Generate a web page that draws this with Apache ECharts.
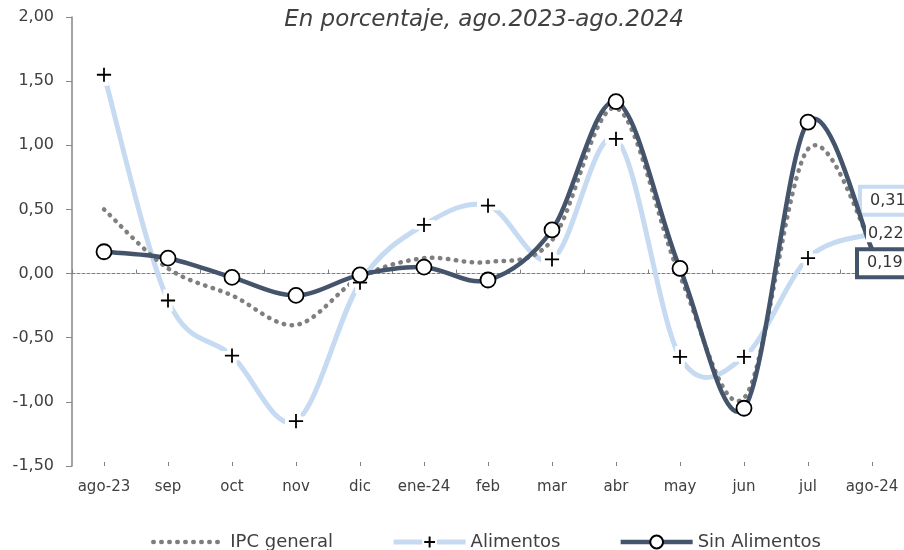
<!doctype html>
<html lang="es">
<head>
<meta charset="utf-8">
<title>IPC general, Alimentos y Sin Alimentos</title>
<script src="https://cdn.jsdelivr.net/npm/echarts@6/dist/echarts.min.js"></script>
<style>
  html, body { margin: 0; padding: 0; background: #fff; }
  #chart { width: 904px; height: 550px; }
</style>
</head>
<body>
<div id="chart"></div>
<script>
// months, ago.2023 - ago.2024
var months = ['ago-23', 'sep', 'oct', 'nov', 'dic', 'ene-24', 'feb', 'mar', 'abr', 'may', 'jun', 'jul', 'ago-24'];

// monthly variation, %
var ipcGeneral   = [0.50, 0.04, -0.17, -0.40, -0.03, 0.12, 0.09, 0.26, 1.29, -0.02, -0.97, 0.97, 0.22];
var alimentos    = [1.55, -0.21, -0.64, -1.15, -0.07, 0.38, 0.53, 0.11, 1.05, -0.65, -0.65, 0.12, 0.31];
var sinAlimentos = [0.17, 0.12, -0.03, -0.17, -0.01, 0.05, -0.05, 0.34, 1.34, 0.04, -1.05, 1.18, 0.19];

var FONT = 'DejaVu Sans';
var TXT = '#404040';
var GRAY = '#7f7f7f';
var LIGHT = '#c6dbf1';
var DARK = '#44546a';
// thick plus, the white border eats half of it and leaves a halo
var plusPath = 'path://M6.2,0h5.6v6.2h6.2v5.6h-6.2v6.2h-5.6v-6.2h-6.2v-5.6h6.2z';

function comma(v) { return v.toFixed(2).replace('.', ','); }

// last point carries no marker, only the end label
function withoutLastSymbol(arr) {
  return arr.map(function (v, i) {
    return i === arr.length - 1 ? { value: v, symbol: 'none' } : v;
  });
}

function endLabel(offset, border) {
  return {
    show: true,
    distance: 0,
    offset: offset,
    align: 'left',
    verticalAlign: 'middle',
    fontFamily: FONT,
    fontSize: 16,
    color: '#333',
    backgroundColor: '#fff',
    borderColor: border || 'transparent',
    borderWidth: border ? 4 : 0,
    padding: border ? [4, 8, 4, 8] : [1, 2, 1, 2],
    formatter: function (p) { return comma(p.value); }
  };
}

// excel-like smoothed line (catmull-rom through the points, can overshoot)
function curveSeries(values, z, style) {
  return {
    type: 'custom',
    z: z,
    silent: true,
    data: [[0, values[0]]],
    renderItem: function (params, api) {
      var pts = values.map(function (v, i) { return api.coord([i, v]); });
      var n = pts.length;
      var d = 'M' + pts[0][0] + ',' + pts[0][1];
      for (var i = 0; i < n - 1; i++) {
        var p0 = pts[Math.max(i - 1, 0)], p1 = pts[i], p2 = pts[i + 1], p3 = pts[Math.min(i + 2, n - 1)];
        var c1x = p1[0] + (p2[0] - p0[0]) / 6, c1y = p1[1] + (p2[1] - p0[1]) / 6;
        var c2x = p2[0] - (p3[0] - p1[0]) / 6, c2y = p2[1] - (p3[1] - p1[1]) / 6;
        d += 'C' + c1x + ',' + c1y + ',' + c2x + ',' + c2y + ',' + p2[0] + ',' + p2[1];
      }
      return {
        type: 'path',
        shape: { pathData: d },
        style: Object.assign({ fill: null }, style)
      };
    }
  };
}

var chart = echarts.init(document.getElementById('chart'), null, { renderer: 'canvas' });

var option = {
  animation: false,
  title: {
    text: 'En porcentaje, ago.2023-ago.2024',
    left: 479,
    top: 4,
    textAlign: 'center',
    textStyle: { fontFamily: FONT, fontStyle: 'italic', fontWeight: 'normal', fontSize: 23, color: TXT }
  },
  legend: {
    left: 146,
    top: 528,
    itemWidth: 72,
    itemHeight: 16,
    itemGap: 58,
    textStyle: { fontFamily: FONT, fontSize: 18, color: TXT },
    data: [
      { name: 'IPC general', lineStyle: { color: GRAY, width: 4.5, type: [0.5, 7.5], cap: 'round', opacity: 1 } },
      { name: 'Alimentos', lineStyle: { color: LIGHT, width: 5, opacity: 1 } },
      { name: 'Sin Alimentos', lineStyle: { color: DARK, width: 4.5, opacity: 1 } }
    ]
  },
  grid: { left: 72, right: 0, top: 17, bottom: 84, containLabel: false },
  xAxis: [
    {
      // labels at the bottom of the plot
      type: 'category',
      data: months,
      position: 'bottom',
      axisLine: { show: false, onZero: false },
      axisTick: { show: false },
      axisLabel: { fontFamily: FONT, fontSize: 15, color: TXT, margin: 14, interval: 0 }
    },
    {
      // dotted zero line, ticks on category boundaries
      type: 'category',
      data: months,
      position: 'bottom',
      axisLine: { onZero: true, lineStyle: { color: GRAY, width: 1, type: [3, 2] } },
      axisTick: { show: true, inside: true, length: 4, interval: 0, lineStyle: { color: GRAY } },
      axisLabel: { show: false }
    },
    {
      // ticks on category centres
      type: 'category',
      data: months,
      position: 'bottom',
      axisLine: { show: false, onZero: true },
      axisTick: { show: true, inside: true, length: 4, interval: 0, alignWithLabel: true, lineStyle: { color: GRAY } },
      axisLabel: { show: false }
    }
  ],
  yAxis: {
    type: 'value',
    min: -1.5,
    max: 2,
    interval: 0.5,
    axisLine: { show: true, lineStyle: { color: '#868686', width: 1.5 } },
    axisTick: { show: true, length: 6, lineStyle: { color: '#868686' } },
    splitLine: { show: false },
    axisLabel: {
      fontFamily: FONT, fontSize: 16, color: TXT, margin: 18,
      formatter: function (v) { return comma(v); }
    }
  },
  series: [
    // the curves
    curveSeries(alimentos, 2, { stroke: LIGHT, lineWidth: 5 }),
    curveSeries(ipcGeneral, 3, { stroke: GRAY, lineWidth: 4.5, lineDash: [0.5, 7.5], lineCap: 'round' }),
    curveSeries(sinAlimentos, 4, { stroke: DARK, lineWidth: 4.5 }),
    // markers, legend entries and end labels
    {
      name: 'IPC general',
      type: 'line',
      data: ipcGeneral,
      symbol: 'none',
      z: 7,
      lineStyle: { color: GRAY, width: 4.5, type: [0.5, 7.5], cap: 'round', opacity: 0 },
      itemStyle: { color: 'rgba(0,0,0,0)' },
      endLabel: endLabel([-6, -12], null)
    },
    {
      name: 'Alimentos',
      type: 'line',
      data: withoutLastSymbol(alimentos),
      symbol: plusPath,
      symbolSize: 18,
      z: 3.5,
      lineStyle: { color: LIGHT, width: 5, opacity: 0 },
      itemStyle: { color: '#000', borderColor: '#fff', borderWidth: 3.8 },
      endLabel: endLabel([-10, -33], LIGHT)
    },
    {
      name: 'Sin Alimentos',
      type: 'line',
      data: withoutLastSymbol(sinAlimentos),
      symbol: 'circle',
      symbolSize: 15,
      z: 6,
      lineStyle: { color: DARK, width: 4.5, opacity: 0 },
      itemStyle: { color: '#fff', borderColor: '#000', borderWidth: 1.8 },
      endLabel: endLabel([-13, 14], DARK)
    }
  ]
};

chart.setOption(option);
window.addEventListener('resize', chart.resize);
</script>
</body>
</html>
